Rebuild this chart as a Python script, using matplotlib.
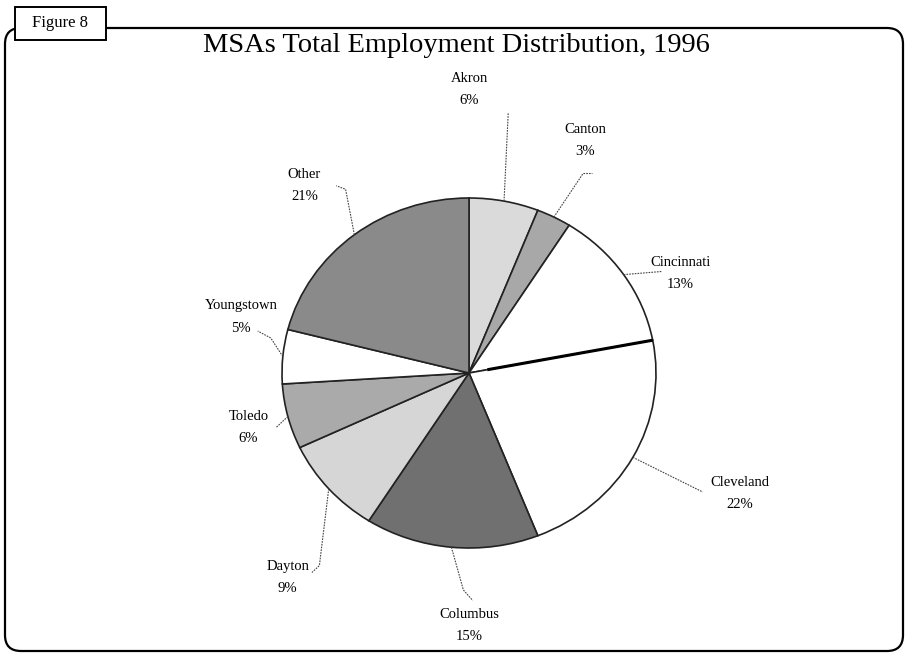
import numpy as np
import matplotlib.pyplot as plt
from matplotlib.patches import FancyBboxPatch, Rectangle


msas = ['Akron', 'Canton', 'Cincinnati', 'Cleveland', 'Columbus',
        'Dayton', 'Toledo', 'Youngstown', 'Other']
shares = [6, 3, 13, 22, 15, 9, 6, 5, 21]
colors = ['#dadada', '#a8a8a8', '#ffffff', '#ffffff', '#707070',
          '#d6d6d6', '#aaaaaa', '#ffffff', '#8a8a8a']
# label centres, in pie radius units
label_pos = [(0.0, 1.62), (0.62, 1.33), (1.13, 0.57), (1.45, -0.69),
             (0.0, -1.44), (-0.97, -1.17), (-1.18, -0.31), (-1.22, 0.32),
             (-0.88, 1.07)]
# leader lines: elbow point then end point (pie radius units)
leaders = [
    [(0.21, 1.49)],
    [(0.61, 1.14), (0.66, 1.14)],
    [(1.03, 0.58)],
    [(1.25, -0.68)],
    [(-0.03, -1.24), (0.02, -1.30)],
    [(-0.80, -1.10), (-0.84, -1.14)],
    [(-1.03, -0.31)],
    [(-1.06, 0.20), (-1.13, 0.24)],
    [(-0.66, 1.05), (-0.71, 1.07)],
]

TITLE = 'MSAs Total Employment Distribution, 1996'
SERIF = 'Liberation Serif'

W, H = 906, 656
fig = plt.figure(figsize=(W / 100, H / 100), dpi=100)

# page furniture drawn in pixel coordinates
bg = fig.add_axes([0, 0, 1, 1])
bg.set_xlim(0, W)
bg.set_ylim(H, 0)
bg.axis('off')
bg.add_patch(FancyBboxPatch((5, 28), 898, 623,
                            boxstyle='round,pad=0,rounding_size=16',
                            fill=False, ec='black', lw=1.6))
bg.add_patch(Rectangle((15, 7), 91, 33, fc='white', ec='black', lw=1.4))
bg.text(60, 23, 'Figure 8', ha='center', va='center',
        family=SERIF, fontsize=12)
bg.text(456, 45, TITLE, ha='center', va='center', family=SERIF,
        fontsize=20.5)

# the pie is slightly squashed, so the axes is not square
cx, cy, rx, ry = 469, 373, 187, 175
ax = fig.add_axes([(cx - rx) / W, 1 - (cy + ry) / H, 2 * rx / W, 2 * ry / H])
wedges, _ = ax.pie(shares, colors=colors, startangle=90, counterclock=False,
                   wedgeprops=dict(edgecolor='#222222', linewidth=1.2))
ax.set_aspect('auto')
ax.set_xlim(-1, 1)
ax.set_ylim(-1, 1)

# heavier boundary between Cincinnati and Cleveland
a = np.deg2rad(wedges[3].theta2)
ax.plot([0.1 * np.cos(a), np.cos(a)], [0.1 * np.sin(a), np.sin(a)],
        color='black', lw=2.2, solid_capstyle='butt')

for w, name, share, (lx, ly), pts in zip(wedges, msas, shares, label_pos, leaders):
    mid = np.deg2rad((w.theta1 + w.theta2) / 2)
    xs = [np.cos(mid)] + [p[0] for p in pts]
    ys = [np.sin(mid)] + [p[1] for p in pts]
    ax.plot(xs, ys, color='#444444', lw=0.8, linestyle=(0, (1.5, 1)),
            clip_on=False)
    ax.text(lx, ly, f'{name}\n{share}%', ha='center', va='center',
            family=SERIF, fontsize=10.5, linespacing=1.9)

fig.savefig('out.png', dpi=100)
